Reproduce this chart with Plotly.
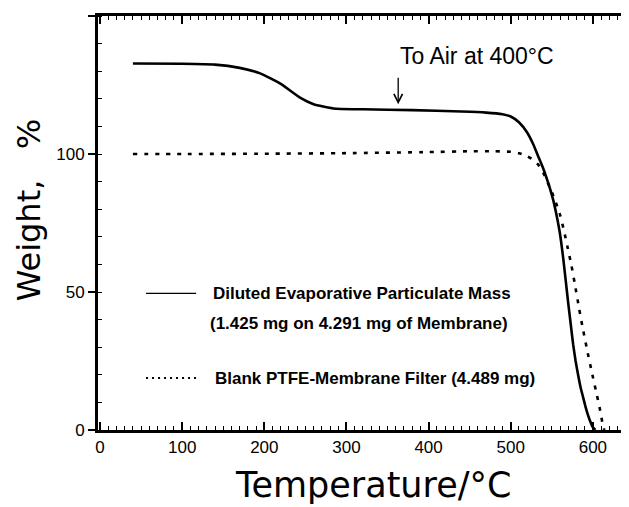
import plotly.graph_objects as go

# ---- data ----
particulate_temp = [40, 100, 140, 170, 195, 220, 244, 260, 284, 320, 380, 440, 470, 490, 500,
                    510, 520, 527, 533, 539, 544, 548, 552, 556, 560, 564, 567, 570, 573, 576,
                    579, 582, 585, 588, 591, 594, 597, 600, 603]
particulate_wt = [132.8, 132.7, 132.4, 131.2, 129.2, 125.4, 120.3, 118.0, 116.5, 116.2, 115.9,
                  115.4, 115.0, 114.4, 113.6, 111.5, 107.8, 103.8, 99.5, 95.2, 91.0, 87.3,
                  83.0, 77.5, 71.0, 62.0, 54.0, 46.0, 38.5, 31.0, 25.0, 20.0, 15.5, 12.0, 8.5,
                  5.5, 3.0, 1.0, 0.0]

blank_temp = [40, 100, 200, 300, 400, 450, 480, 500, 510, 518, 525, 533, 540, 546, 551, 556,
              560, 565, 569, 574, 578, 583, 587, 593, 599, 605, 609, 612, 614]
blank_wt = [100.0, 100.0, 100.1, 100.3, 100.7, 101.0, 101.0, 100.8, 100.3, 99.5, 98.3, 96.3,
            93.0, 89.0, 85.5, 81.5, 78.0, 72.0, 66.5, 59.5, 53.0, 44.5, 38.0, 29.0, 20.6,
            12.5, 7.0, 2.0, 0.0]

series_names = ["Diluted Evaporative Particulate Mass", "Blank PTFE-Membrane Filter (4.489 mg)"]
sub_label = "(1.425 mg on 4.291 mg of Membrane)"
note_text = "To Air at 400°C"
note_temp = 363
note_wt = 118

x_title = "Temperature/°C"
y_title = "Weight,   %"

TICK_FONT = dict(family="Liberation Sans", size=17, color="black")
TEXT_FONT = dict(family="Liberation Sans", size=17, color="black", weight="bold")
TITLE_FONT = dict(family="DejaVu Sans", size=35, color="black")

fig = go.Figure()
fig.add_trace(go.Scatter(x=particulate_temp, y=particulate_wt, mode="lines",
                         line=dict(color="black", width=2.6, shape="spline", smoothing=0.5),
                         name=series_names[0], showlegend=False))
fig.add_trace(go.Scatter(x=blank_temp, y=blank_wt, mode="lines",
                         line=dict(color="black", width=2.6, dash="4px,7px",
                                   shape="spline", smoothing=0.5),
                         name=series_names[1], showlegend=False))

# legend built from shapes + annotations
fig.add_shape(type="line", x0=56, x1=117, y0=49.5, y1=49.5, xref="x", yref="y",
              line=dict(color="black", width=1.2))
fig.add_shape(type="line", x0=56, x1=119, y0=18.8, y1=18.8, xref="x", yref="y",
              line=dict(color="black", width=2, dash="2px,4px"))
fig.add_annotation(x=135, y=49.5, text=series_names[0], showarrow=False, xanchor="left",
                   font=TEXT_FONT)
fig.add_annotation(x=132, y=38.7, text=sub_label, showarrow=False, xanchor="left",
                   font=TEXT_FONT)
fig.add_annotation(x=138, y=18.8, text=series_names[1], showarrow=False, xanchor="left",
                   font=TEXT_FONT)

fig.add_annotation(x=459, y=135.5, text=note_text, showarrow=False,
                   font=dict(family="Liberation Sans", size=23, color="black"))
fig.add_annotation(x=note_temp, y=note_wt, ax=0, ay=-28, text="", showarrow=True,
                   arrowhead=5, arrowsize=1.3, arrowwidth=1.3, arrowcolor="black")

# axis titles placed as text so they sit where the reference has them
fig.add_annotation(x=-0.13, y=0.533, xref="paper", yref="paper", text=y_title,
                   textangle=-90, showarrow=False, xanchor="center", yanchor="middle",
                   font=dict(family="DejaVu Sans", size=32, color="black"))
fig.add_annotation(x=0.517, y=-0.134, xref="paper", yref="paper", text=x_title,
                   showarrow=False, xanchor="center", yanchor="middle", font=TITLE_FONT)

# the page body has an 8px default margin, so the figure is sized to fit the window
fig.update_layout(
    width=621, height=499,
    margin=dict(l=90, r=0, t=8, b=77, autoexpand=False),
    plot_bgcolor="white", paper_bgcolor="white",
    showlegend=False,
    xaxis=dict(range=[-2.5, 644], tick0=0, dtick=100, ticks="inside", ticklen=8, tickwidth=1.5,
               tickcolor="black", showline=True, linewidth=3, linecolor="black",
               mirror="ticks", showgrid=False, zeroline=False, tickfont=TICK_FONT,
               automargin=False,
               minor=dict(dtick=10, ticks="inside", ticklen=4, tickwidth=1, tickcolor="black",
                          showgrid=False)),
    yaxis=dict(range=[0, 150], tick0=0, dtick=50, ticks="outside", ticklen=7, tickwidth=1.5,
               tickcolor="black", showline=True, linewidth=3, linecolor="black",
               showgrid=False, zeroline=False, tickfont=TICK_FONT, automargin=False,
               minor=dict(dtick=10, ticks="inside", ticklen=4, tickwidth=1, tickcolor="black",
                          showgrid=False)),
    yaxis2=dict(range=[0, 150], overlaying="y", side="right", matches="y", dtick=50,
                ticks="inside", ticklen=7, tickwidth=1.5, tickcolor="black", automargin=False,
                showticklabels=False, showline=False, showgrid=False, zeroline=False,
                minor=dict(dtick=10, ticks="inside", ticklen=4, tickwidth=1,
                           tickcolor="black", showgrid=False)),
)
fig.add_trace(go.Scatter(x=[None], y=[None], yaxis="y2", showlegend=False, hoverinfo="skip"))

fig.write_html("out.html")
